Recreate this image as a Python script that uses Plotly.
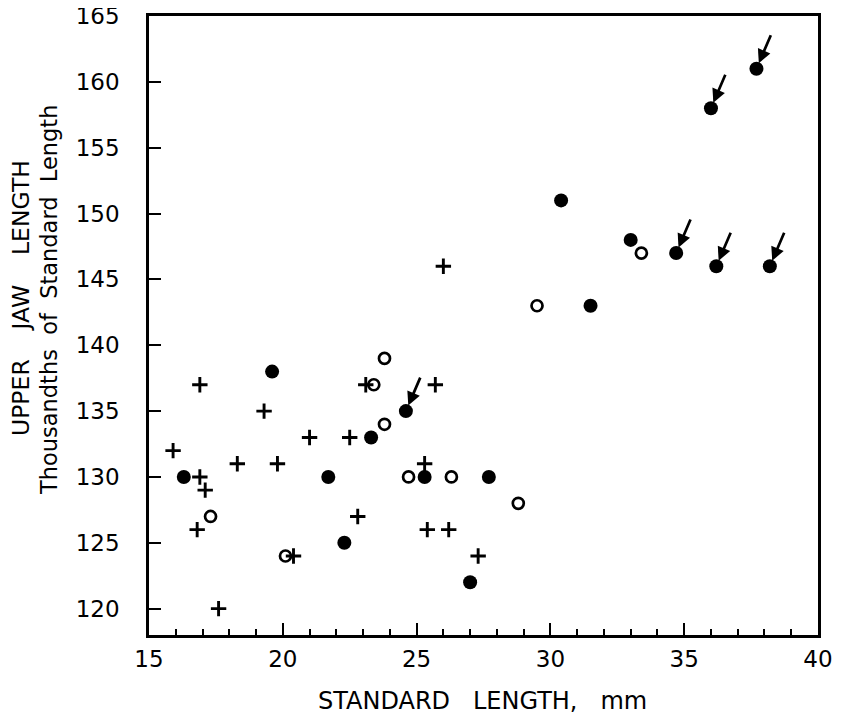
import plotly.graph_objects as go

# Data
plus_x = [16.9, 19.3, 21.0, 22.5, 15.9, 18.3, 19.8, 16.9, 17.1, 16.8,
          20.4, 22.8, 17.6, 26.0, 23.1, 25.7, 25.3, 25.4, 26.2, 27.3]
plus_y = [137, 135, 133, 133, 132, 131, 131, 130, 129, 126,
          124, 127, 120, 146, 137, 137, 131, 126, 126, 124]

open_x = [17.3, 20.1, 29.5, 23.8, 23.4, 23.8, 24.7, 26.3, 28.8, 33.4]
open_y = [127, 124, 143, 139, 137, 134, 130, 130, 128, 147]

filled_x = [16.3, 19.6, 21.7, 22.3, 23.3, 24.6, 25.3, 27.7, 27.0, 30.4,
            31.5, 33.0, 34.7, 36.2, 38.2, 36.0, 37.7]
filled_y = [130, 138, 130, 125, 133, 135, 130, 130, 122, 151,
            143, 148, 147, 146, 146, 158, 161]
filled_arrow = [False, False, False, False, False, True, False, False, False, False,
                False, False, True, True, True, True, True]

x_ticks = [15, 20, 25, 30, 35, 40]
y_ticks = [120, 125, 130, 135, 140, 145, 150, 155, 160, 165]

FONT = "DejaVu Sans"
NB = "\u00a0"

# the page body has an 8px margin, so the figure starts at (8, 8) on screen
OFF = 8
W, H = 841 - OFF, 715 - OFF
plot_l, plot_r, plot_t, plot_b = 149 - OFF, 23, 16 - OFF, 80
pw = W - plot_l - plot_r
ph = H - plot_t - plot_b


def px_to_paper_x(px):  # px in screen coordinates
    return (px - OFF - plot_l) / pw


def py_to_paper_y(py):  # py in screen coordinates
    return (H - plot_b - (py - OFF)) / ph


fig = go.Figure()
fig.add_trace(go.Scatter(
    x=plus_x, y=plus_y, mode="markers",
    marker=dict(symbol="cross-thin", size=11, color="black",
                line=dict(width=2.9, color="black")),
    showlegend=False, hoverinfo="skip"))
fig.add_trace(go.Scatter(
    x=open_x, y=open_y, mode="markers",
    marker=dict(symbol="circle-open", size=11, color="black",
                line=dict(width=2.7, color="black")),
    showlegend=False, hoverinfo="skip"))
fig.add_trace(go.Scatter(
    x=filled_x, y=filled_y, mode="markers",
    marker=dict(symbol="circle", size=14, color="black",
                line=dict(width=0)),
    showlegend=False, hoverinfo="skip"))

annotations = []
for xv, yv, a in zip(filled_x, filled_y, filled_arrow):
    if a:
        annotations.append(dict(
            x=xv, y=yv, xref="x", yref="y", text="", showarrow=True,
            ax=15, ay=-35, arrowhead=2, arrowsize=1.0, arrowwidth=2.7,
            arrowcolor="black", standoff=6))

annotations += [
    dict(text="UPPER" + NB * 4 + "JAW" + NB * 4 + "LENGTH",
         x=px_to_paper_x(21), y=py_to_paper_y(298), xref="paper", yref="paper",
         showarrow=False, textangle=-90, borderpad=0,
         font=dict(family=FONT, size=23.5, color="black"),
         xanchor="center", yanchor="middle"),
    dict(text="Thousandths" + NB * 2 + "of" + NB * 2 + "Standard" + NB * 2 + "Length",
         x=px_to_paper_x(49), y=py_to_paper_y(300), xref="paper", yref="paper",
         showarrow=False, textangle=-90, borderpad=0,
         font=dict(family=FONT, size=22.5, color="black"),
         xanchor="center", yanchor="middle"),
    dict(text="STANDARD" + NB * 3 + "LENGTH," + NB * 3 + "mm",
         x=px_to_paper_x(482), y=py_to_paper_y(701), xref="paper", yref="paper",
         showarrow=False, font=dict(family=FONT, size=24, color="black"),
         xanchor="center", yanchor="middle"),
]

fig.update_layout(
    width=W, height=H,
    margin=dict(l=plot_l, r=plot_r, t=plot_t, b=plot_b),
    paper_bgcolor="white", plot_bgcolor="white",
    annotations=annotations,
    xaxis=dict(range=[15, 40], tickvals=x_ticks, ticktext=[str(v) for v in x_ticks],
               ticks="inside", ticklen=12, tickwidth=2, tickcolor="black",
               minor=dict(ticks="inside", ticklen=6, tickwidth=2, dtick=1, tickcolor="black"),
               showline=True, linewidth=2.5, linecolor="black", mirror=True,
               showgrid=False, zeroline=False, automargin=False,
               tickfont=dict(family=FONT, size=23, color="black"),
               ticklabelstandoff=2, ticklabeloverflow="allow"),
    yaxis=dict(range=[118, 165], tickvals=y_ticks, ticktext=[str(v) for v in y_ticks],
               ticks="inside", ticklen=12, tickwidth=2, tickcolor="black",
               showline=True, linewidth=2.5, linecolor="black", mirror=True,
               showgrid=False, zeroline=False, automargin=False,
               tickfont=dict(family=FONT, size=23, color="black"),
               ticklabelstandoff=22, ticklabeloverflow="allow"),
)

fig.write_html("out.html")
